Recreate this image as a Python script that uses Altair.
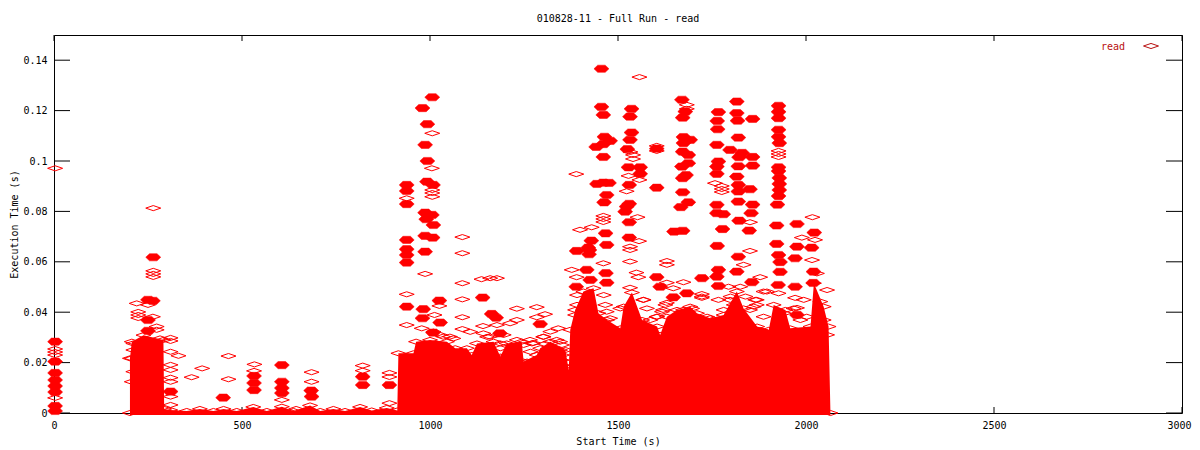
import altair as alt
import pandas as pd

title_text = "010828-11 - Full Run - read"
x_title = "Start Time (s)"
y_title = "Execution Time (s)"
legend_label = "read"
x_ticks = [0, 500, 1000, 1500, 2000, 2500, 3000]
y_ticks = [0, 0.02, 0.04, 0.06, 0.08, 0.1, 0.12, 0.14]

# Dense overplotted mass: start time (s), upper edge of execution time (ms)
mass_x = [202, 202, 207, 238, 291, 293, 309, 353, 388, 424, 451, 486, 530, 566, 606, 637, 681, 708, 743, 774, 814,
          845, 885, 913, 916, 956, 963, 1000, 1045, 1067, 1098, 1111, 1125, 1169, 1187, 1204, 1244, 1249, 1284,
          1293, 1320, 1360, 1369, 1373, 1386, 1408, 1435, 1448, 1471, 1506, 1515, 1537, 1564, 1604, 1612, 1630,
          1657, 1692, 1710, 1745, 1781, 1816, 1834, 1870, 1901, 1914, 1945, 1958, 2012, 2021, 2047, 2060, 2065]
mass_top = [0, 21.7, 28.3, 30.9, 29, 1.6, 1.2, 0.8, 1.6, 0.8, 1.6, 0.8, 2.4, 0.8, 2.5, 0.8, 3, 0.8, 1.6, 0.8, 2.4,
            1, 2, 1, 23.7, 23.7, 28.3, 29, 28.3, 25.7, 25.7, 23, 27.6, 28.3, 22.4, 27.6, 28.3, 20.4, 23,
            25.7, 28.3, 25, 17, 33, 40.9, 48.2, 49.5, 39.6, 36.9, 33.6, 42.2, 47.8, 36.9, 34.3, 31, 38.2,
            40.9, 42.2, 39.6, 37.6, 38.9, 48.2, 41.5, 34.3, 33, 42.9, 40.9, 33.6, 34.3, 51.5, 42.2, 34.3, 0]
mass_floor = -0.8

# Clusters that read as filled blobs
solid_x = [1006, 980, 993, 987, 993, 992, 1008, 987, 1005, 990, 1009, 938, 938, 938, 938, 938, 938, 938, 938,
           987, 1007, 987, 1025, 982, 980, 1027, 1008, 1140, 1164, 1176, 1293, 1186,
           1456, 1670, 1672, 1679, 1816, 1767, 1816, 1818, 1858, 1764, 1765, 1927, 1927, 1927, 1456, 1461, 1536,
           1532, 1536, 1532, 1464, 1461, 1442, 1479, 1525, 1461, 1603, 1674, 1674, 1692, 1672, 1687, 1687, 1670,
           1681, 1672, 1672, 1687, 1667, 1649, 1672, 1763, 1820, 1798, 1830, 1822, 1858, 1820, 1858, 1767, 1763,
           1763, 1816, 1820, 1820, 1851, 1763, 1763, 1780, 1820, 1858, 1854, 1822, 1778, 1849, 1764, 1927, 1927,
           1929, 1927, 1927, 1929, 1929, 1929, 1927, 1924, 1922, 1922, 1976, 2022, 1976, 2015, 1528, 1559, 1559,
           1530, 1603, 1461, 1444, 1476, 1470, 1463, 1530, 1523, 1519, 1530, 1467, 1429, 1470, 1530, 1421, 1390,
           1424, 1423, 1417, 1468, 1426, 1470, 1389, 1612, 1647, 1683, 1603, 1767, 1763, 1723, 1767, 1816, 1856,
           1927, 1931, 1931, 1926, 1971, 2020, 2019, 1971, 1976, 1820,
           3, 3, 3, 3, 3, 3, 3, 3, 264, 250, 263, 250, 250, 310, 450, 532, 532, 532, 606, 606, 606, 606, 684, 685,
           821, 821, 892]
solid_y = [125.3, 121, 114.6, 106.4, 100, 91.8, 90.5, 79.5, 78.6, 76.9, 74.6, 90.5, 88.1, 82.9, 68.7, 65, 62.7, 59.7,
           42.2, 70.3, 69.6, 64, 44.6, 41.2, 37.6, 35.9, 31.9, 45.8, 39.3, 37.8, 35.3, 31.6,
           136.6, 124.3, 117.2, 119.6, 123.6, 119.4, 119, 116, 116.7, 115.9, 112.6, 121.9, 119.5, 117, 121.5, 118.3,
           120.7, 117.6, 111.3, 108.4, 109.6, 106.7, 105.6, 108, 104.7, 101.6, 104.9, 109.5, 107.1, 108.4, 103.7,
           102.4, 99.1, 97.8, 94.4, 93.2, 87.6, 83.6, 81.7, 72, 72.3, 106.4, 109.3, 104.4, 103.2, 101.5, 101.6, 97.9,
           98.2, 99.8, 97.8, 94.9, 93.8, 90.5, 87.9, 88.8, 82.6, 79.3, 78.9, 83.9, 82.7, 79.3, 76.3, 73, 72.4, 66.3,
           112.4, 109.6, 107.1, 97.5, 96, 93.3, 90.9, 88.5, 86.1, 82.7, 74.4, 67.1, 75, 71.6, 66, 65.6, 97.5, 97.5,
           94.9, 90.5, 89.4, 91.4, 90.9, 91.3, 86.5, 83.6, 83, 81.9, 79.9, 75.7, 71.3, 68.4, 66.7, 69.6, 65.6, 64.3,
           64.7, 63, 56.8, 55.5, 52.8, 51.7, 50.1, 50.1, 45.9, 47.5, 53.9, 56.8, 54.1, 53.5, 50.4, 56.1, 51.9,
           62.7, 59.9, 56, 50.8, 61.4, 56.1, 51.6, 50.1, 38.9, 62,
           28.3, 20.4, 15.9, 13.1, 10.7, 8.3, 2.8, 0.8, 61.8, 44.9, 44.5, 36.9, 32.6, 8.5, 6.1, 11.9, 14.7, 9.1, 19,
           9.9, 12.4, 7.9, 8.9, 6.5, 14.4, 11.1, 11.1]

# Single requests that stay visible as open diamonds
hollow_x = [3, 264, 1006, 1005, 1006, 1006, 1006, 938, 938, 938, 987, 1086, 1086, 1086, 1086, 1086, 1137, 1160, 1178,
            1025, 1012, 978, 1231, 1284, 1306, 1284, 1231, 1213, 1086, 1107, 1141, 1178, 1152, 1301, 1341, 1231,
            1346, 1274, 1389, 1557, 1683, 1683, 1540, 1540, 1533, 1603, 1603, 1927, 1927, 1927, 1528, 1557, 1523,
            1461, 1461, 1461, 1552, 1399, 1430, 1556, 1532, 1532, 1532, 1630, 1630, 1461, 1390, 1549, 1554, 1532,
            1630, 1674, 1647, 1723, 1723, 1767, 1878, 1834, 1851, 1887, 1927, 1758, 1776, 1776, 1776, 1851, 2017,
            1989, 2024, 2016, 1971,
            3, 3, 3, 3, 220, 250, 224, 224, 224, 263, 273, 273, 264, 264, 264, 310, 310, 310, 331, 310, 310, 310,
            310, 310, 310, 366, 394, 464, 464, 533, 532, 685, 685, 821, 821, 892, 892, 892, 606, 644,
            1053, 1035, 1266, 1306, 1337, 1350, 1248, 1194, 1603, 1630, 1620, 1673, 1798, 1869, 1869, 1896, 1851,
            1976, 2002, 1772, 1878, 1891, 1567,
            1009, 1027, 1062, 1142, 1160, 1196, 1187, 1187, 1196, 1249, 1271, 1267, 1302, 1320, 1337, 1351, 1346,
            1351, 1351, 1258, 1284,
            1377, 1391, 1391, 1386, 1462, 1466, 1470, 1479, 1497, 1506, 1568, 1577, 1586, 1604, 1617, 1626, 1697,
            1723, 1737, 1781, 1799, 1808, 1794, 1825, 1839, 1865, 1861, 1887, 1879, 1896, 1941, 1967, 1994, 1985,
            2038, 2047, 2056, 2056, 2029,
            211, 211, 207, 211, 207, 282]
hollow_y = [97.1, 81.3, 111, 97.1, 88.5, 87.3, 85.8, 85.2, 47.1, 34.9, 55.2, 69.8, 63.4, 51.5, 45.1, 38, 53.1, 53.5,
            53.5, 42.5, 38.9, 33.6, 41.4, 42, 39.2, 38, 36.9, 35.6, 33.3, 32.2, 34.5, 34.9, 30.2, 30.2, 33.6, 29,
            28.3, 27.8, 94.8, 133.3, 122.3, 120.7, 102.4, 100.8, 103.6, 106, 104, 104, 102.8, 101.6, 94.1, 92.5, 88,
            78.2, 77, 75.8, 77.7, 72.7, 73.7, 68.2, 66, 64.7, 60.1, 60.3, 58.8, 59.4, 53.9, 55.7, 53.9, 49.7,
            51.7, 51.9, 49.5, 47.2, 45.7, 44.9, 53.9, 58.8, 64.3, 48.2, 47.5, 91.2, 90.1, 88.9, 87.7, 75.7, 77.7,
            69.6, 68.7, 60.7, 45.7,
            25.4, 24.2, 23, 6, 43.5, 42.9, 40.1, 38.9, 37.7, 38.2, 34.3, 33, 56.4, 55.2, 54, 29.8, 28.6, 24.3, 22.7,
            19.1, 17.1, 14, 12.4, 6.5, 3.2, 14.2, 17.7, 22.6, 13.4, 19.3, 16.7, 16.2, 12.4, 18.8, 16.8, 15.9, 14.3,
            3.9, 5.2, 1.6,
            30.3, 30.3, 29, 27.4, 24.3, 21, 19.8, 21, 38.2, 43.7, 40.9, 40.9, 44.9, 44.9, 42.9, 48.2, 40.9,
            41.7, 38.2, 34.3, 31.8, 27.8, 44.9,
            32.3, 31, 29.6, 31.6, 30.3, 31, 27.6, 25.7, 22.4, 27, 27.6, 24.3, 30.3, 32.3, 29, 27, 25,
            23, 19, 20.4, 21,
            56.8, 46.8, 42.9, 38.9, 46.8, 42.9, 40.2, 37.6, 26.3, 41.5, 44.9, 41.5, 36.9, 38.2, 40.2, 42.9, 41.5,
            46.2, 38.2, 40.9, 46.2, 42.9, 50.1, 50.1, 46.2, 44.9, 42.2, 38.2, 32.9, 26.3, 39.6, 41.5, 44.9, 36.9,
            44.2, 36.9, 31, 48.8, 55.4,
            27.6, 25, 21.7, 16.4, 12.4, 29.6]

RED = "#ff0000"
DARK = "#b81010"
FONT = "DejaVu Sans Mono"
HOLLOW_PATH = "M-1,0L0,-0.34L1,0L0,0.34Z"
SOLID_PATH = "M-1,0L-0.5,-0.48L0.5,-0.48L1,0L0.5,0.48L-0.5,0.48Z"

x_scale = alt.Scale(domain=[0, 3000], nice=False, zero=False)
y_scale = alt.Scale(domain=[0, 0.15], nice=False, zero=False)
x_axis = alt.Axis(values=x_ticks, format="d", grid=False, ticks=False, domain=False, labelFont=FONT,
                  labelFontSize=10, labelColor="#000", labelPadding=7, labelAngle=0, labelFlush=False,
                  labelOffset={"condition": {"test": "datum.value == 3000", "value": -3}, "value": 0},
                  titleFont=FONT, titleFontSize=10, titleFontWeight="normal", titleColor="#000", titlePadding=6)
y_axis = alt.Axis(values=y_ticks, format="~g", grid=False, ticks=False, domain=False, labelFont=FONT,
                  labelFontSize=10, labelColor="#000", labelPadding=7, labelFlush=False,
                  titleFont=FONT, titleFontSize=10, titleFontWeight="normal", titleColor="#000", titlePadding=3)


def X(field):
    return alt.X(field, scale=x_scale, axis=x_axis, title=x_title)


def Y(field):
    return alt.Y(field, scale=y_scale, axis=y_axis, title=y_title)


mass_df = pd.DataFrame({"x": mass_x, "top": [v / 1000 for v in mass_top], "floor": mass_floor / 1000})
solid_df = pd.DataFrame({"x": solid_x, "y": [v / 1000 for v in solid_y]})
hollow_df = pd.DataFrame({"x": hollow_x, "y": [v / 1000 for v in hollow_y]})
yt_df = pd.DataFrame({"v": y_ticks})
xt_df = pd.DataFrame({"v": x_ticks})

mass = alt.Chart(mass_df).mark_area(color=RED, interpolate="linear").encode(
    x=X("x:Q"), y=Y("top:Q"), y2="floor:Q")
mass_edge = alt.Chart(mass_df).mark_point(shape=HOLLOW_PATH, size=225, filled=False, stroke=RED, strokeWidth=1,
                                          opacity=1).encode(x=X("x:Q"), y=Y("top:Q"))


def tick_y(a, b):
    return alt.Chart(yt_df).mark_rule(color="#000", strokeWidth=1).encode(
        y=Y("v:Q"), x=alt.value(a), x2=alt.value(b))


def tick_x(a, b):
    return alt.Chart(xt_df).mark_rule(color="#000", strokeWidth=1).encode(
        x=X("v:Q"), y=alt.value(a), y2=alt.value(b))


hollow = alt.Chart(hollow_df).mark_point(shape=HOLLOW_PATH, size=225, filled=False, stroke=RED, strokeWidth=1,
                                         opacity=1).encode(x=X("x:Q"), y=Y("y:Q"))
solid = alt.Chart(solid_df).mark_point(shape=SOLID_PATH, size=225, filled=True, fill=RED, stroke=RED, strokeWidth=0.5,
                                       opacity=1).encode(x=X("x:Q"), y=Y("y:Q"))

legend_df = pd.DataFrame({"label": [legend_label]})
legend_text = alt.Chart(legend_df).mark_text(font=FONT, fontSize=10, color=DARK, align="right", baseline="middle").encode(
    text="label:N", x=alt.value(1071), y=alt.value(12))
legend_mark = alt.Chart(legend_df).mark_point(shape=HOLLOW_PATH, size=225, filled=False, stroke=DARK, strokeWidth=1,
                                              opacity=1).encode(x=alt.value(1097), y=alt.value(11))

chart = alt.layer(
    tick_y(0, 16), tick_y(1112, 1128), tick_x(0, 6), tick_x(372, 378),
    mass, mass_edge, hollow, solid, legend_text, legend_mark,
).properties(
    width=1128, height=378, autosize=alt.AutoSizeParams(type="none"),
    padding={"left": 46, "top": 27, "right": 10, "bottom": 36},
    title=alt.TitleParams(title_text, font=FONT, fontSize=10, fontWeight="normal", color="#000", anchor="middle", offset=11),
).configure_view(stroke="#000", strokeWidth=1)

chart.save("out.html", embed_options={"renderer": "svg", "actions": False})
